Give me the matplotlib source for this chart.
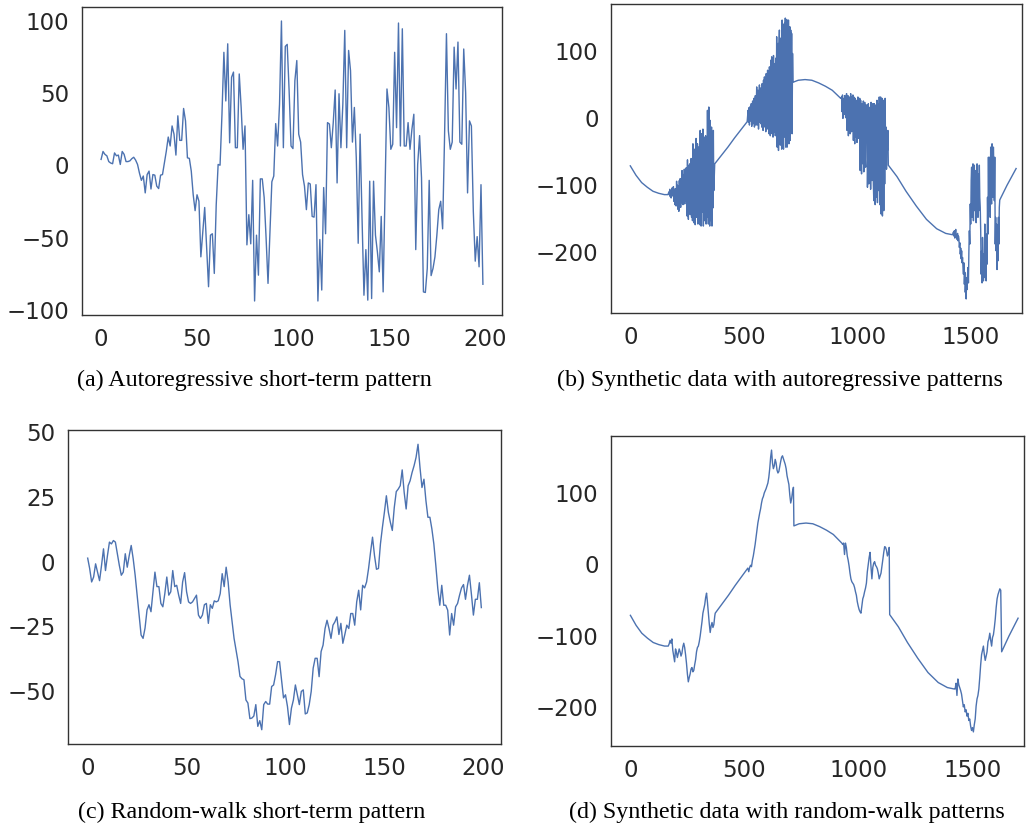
import numpy as np
import matplotlib
matplotlib.use('Agg')
import matplotlib.pyplot as plt

# (a) autoregressive short-term pattern, one value per step
ar_pattern = [
    3.5, 9, 7, 6, 2, 1, 0.5, 8, 6, 6.5,
    0, 9, 7, 2, 2, 2.5, 4, 5, 3, 0,
    -6, -11, -8, -19.7, -7, -4.6, -17, -7, -7.4, -15,
    -16.7, -7.4, -7, 1, 9.3, 19, 12.8, 26.7, 21, 6.5,
    33.7, 16.7, 16.7, 38.8, 30.2, 4.6, 4.2, -4.6, -20.9, -32,
    -21, -25.5, -64, -46.5, -29.8, -57, -84.7, -49, -48, -75.5,
    -28, 0, -0.5, 34.8, 77.7, 44, 83.6, 15, 60.4, 64,
    11.6, 11.6, 62.7, 39.5, 10.5, 26.7, -55.7, -34.8, -55, -11,
    -94.6, -49, -76.7, -10, -10, -23, -51, -82.4, -46.5, -12,
    -8, 28.3, 12.8, 41.8, 99.4, 11.6, 81.8, 83.2, 51, 12.8,
    11, 58, 72, 21, 15.5, -7, -15, -31.3, -12.8, -13.5,
    -36, -36.5, -14, -94.6, -52, -87, -16, -48, 29, 28,
    11.6, 29, 51.6, -12.8, 49, 11.6, 41.8, 92.9, 11.6, 79,
    65, 15.5, 39.5, 4.6, -54.6, 21, -37, -90.6, -59, -94,
    -11.6, -92.9, -11.6, -49, -60.5, -74.4, -36, -88.3, -16.3, 52.3,
    39.5, 10.5, 14, 77.7, 25.5, 98, 12.8, 94, 12.8, 12.8,
    29, 10.5, 24.4, 34.8, -59, 0, 20, -9.3, -88.3, -88.7,
    -72, -11, -77, -72, -64, -49, -31.3, -25.5, -44.6, 18.6,
    90.6, 23.3, 10.5, 15.5, 81.3, 52.3, 84.8, 15.5, 14, 80,
    49.8, -19.7, 30.2, 26.7, -32.5, -67, -50, -70.9, -14, -83,
]

# (c) random-walk short-term pattern
rw_pattern = [
    1, -3, -8.2, -6.3, -1.2, -4.4, -7.7, -1.8, 4.6, -3.8,
    2, 7.2, 6.5, 7.8, 7.2, 2.7, -1.8, -5.6, -4.4, 2.7,
    -2.5, 2, 5.9, 0.8, -5.6, -13.3, -21, -28.7, -30, -26,
    -19, -17, -19.7, -12, -4.4, -10, -10, -16.5, -17.8, -12.7,
    -6.3, -13.3, -12, -3.8, -10, -9.5, -13.3, -16.5, -8.2, -4.6,
    -12, -15.9, -16.5, -15.9, -14.6, -13.3, -21, -22.3, -21, -17,
    -16.5, -24.2, -17, -18.4, -15.5, -15.9, -15.5, -12.7, -5, -10,
    -2.5, -8.2, -17, -23.6, -30, -34.5, -39, -44.7, -45.6, -46,
    -53.8, -55, -61, -60.8, -60, -55.6, -64, -61.8, -65.3, -55.6,
    -54.4, -55.4, -55.4, -48.6, -48, -44, -39, -39, -46, -53,
    -51.8, -56.3, -63.3, -57, -53.8, -48, -51.8, -55.6, -50.5, -49.9,
    -59.2, -58.8, -55.6, -50.5, -41.5, -37.7, -37.7, -44.8, -35.1, -32.6,
    -26.2, -23, -26.2, -30, -24.9, -23.6, -21.7, -28.5, -24.2, -31.9,
    -28.5, -24.9, -26.2, -20.4, -20.4, -24.9, -15.9, -11.4, -19, -9.5,
    -10.5, -8.2, -3, 3.3, 9.1, 2, -3.3, -3, 6.5, 12.9,
    18.7, 25.1, 18.7, 14.9, 11.7, 20.6, 26.7, 27.7, 29, 35.1,
    26.4, 20, 29, 30.9, 34.1, 36.7, 39.9, 45, 36, 28.3,
    31.5, 23.2, 16.8, 16.8, 12.3, 6.5, -1.8, -10.8, -17.2, -9.5,
    -17.2, -17.2, -19.1, -28.7, -20.4, -24.9, -17.8, -16.5, -13.3, -10.5,
    -9.2, -14.9, -9.5, -5.6, -13, -21, -14.9, -14.9, -8.5, -18.1,
]

# smooth trend shared by (b) and (d), read where no pattern is inserted
trend_x = [0, 25, 50, 75, 100, 125, 150, 166,
           372, 400, 430, 460, 490, 515,
           717, 740, 770, 800, 830, 860, 890, 927,
           1137, 1175, 1215, 1260, 1305, 1350, 1390, 1420,
           1628, 1660, 1700]
trend_y = [-73, -87, -98, -105, -111, -114, -116, -116,
           -70, -58, -45, -31, -18, -7,
           52, 55, 56, 55, 51, 46, 40, 28,
           -72, -89, -111, -133, -153, -167, -174, -176,
           -124, -102, -77]

# inserted autoregressive stretches in (b), sampled every 2 time units
ar_step = 2
ar_starts = [170, 519, 931, 1424]
ar_seg1 = [-112, -116, -108, -119, -110, -121, -113, -106, -118, -111,
           -104, -126, -110, -131, -107, -122, -133,
           -96, -128, -102, -138, -110, -141, -95, -125, -92, -135, -104,
           -128, -80, -118, -131, -86, -124, -78, -130, -95, -126, -76,
           -120, -148, -64, -140, -153, -72, -130, -70, -146, -92, -62, -150, -110, -155,
           -40, -130, -158, -48, -120, -161, -58, -32, -150, -105, -40, -160, -75, -152, -44, -161,
           -20, -140, -163, -25, -100, -142, -18, -163, -60, -30, -155, -122, -28, -160, -48, -150,
           10, -120, -160, 15, -90, -163, -5, -140, -155, -15, -163, -60, -136, -20, -110]
ar_seg2 = [10, -8, 14, -12, 5, 16, -6, 20, -14, 8, 24, -10, 2, 28, -15, 12, 32, -12, 20,
           45, -12, 30, 40, -18, 15, 48, -8, 36, -10, 44, -15, 50, 38,
           -20, 55, -5, 60, -15, 45, -22, 65, 10, -18, 70, -12, 58, -25, 75, 40,
           -28, 85, -10, 90, -25, 60, -30, 92, 20, -22, 80, -28, 88, -15,
           120, -45, 70, 110, -50, 100, 130, -30, -42, 118, 60, -48,
           145, -20, 138, -48, 90, 140, -30, 148, -45, 120, 146,
           -45, 142, -10, 145, -40, 100, 135, -35, 130, -18, 125,
           -25, 95]
ar_seg3 = [30, 8, 33, -2, 20, 28, 4, 32, 10, -1, 28,
           35, -20, 12, 32, -28, 20, 30, -15, -25, 35, 8, -22, 30, -10, 33,
           -35, 30, -10, -40, 28, 5, -30, 25, -38, 10, 30, -32, 22, -20, 28,
           -80, 25, -40, -85, 20, -10, -70, 24, -82, 0, 22, -60, -75, 18, -30,
           18, -105, -40, 20, -100, 10, -60, 15, -108, 22, -20, -95, -70, 20, -100,
           -125, 20, -60, -131, 18, -20, -120, 25, -128, -50, 20, -110, 30, -131, 0,
           30, -145, -40, 28, -148, -10, 25, -140, 20, -100, 28,
           -60, -15, -78, -30, -50, -20]
ar_seg4 = [-172, -178, -170, -181, -175, -168, -180, -176, -183, -174, -185, -178,
           -182, -195, -188, -205, -196, -212, -200, -218, -210, -225,
           -235, -218, -250, -232, -262, -245, -272, -240, -258, -236,
           -225, -248, -200, -170, -190, -130, -160, -95,
           -75, -150, -110, -70, -155, -90, -72, -140, -120, -80,
           -158, -100, -70, -130, -150, -85, -140, -72, -120, -135,
           -170, -235, -200, -248, -180, -215, -245, -205, -240, -160, -230, -190, -245, -175,
           -220, -120, -175, -60, -140, -90, -60, -150, -45, -110,
           -130, -40, -100, -120, -45, -80, -125, -60, -190, -150,
           -200, -160, -228, -170, -215, -150, -190, -135]

# inserted random-walk stretches in (d), sampled every 4 time units
rw_step = 4
rw_starts = [170, 519, 931, 1424]
rw_seg1 = [-113, -108, -112, -106, -122, -130, -138, -120, -125, -132,
           -126, -120, -124, -130, -126, -117, -112, -118, -128, -140,
           -155, -166, -160, -155, -148, -146, -152, -150, -142, -135,
           -124, -118, -116, -110, -102, -92, -82, -70, -64, -58,
           -48, -42, -55, -70, -85, -97, -88, -83, -90, -86,
           -74]
rw_seg2 = [-12, -6, -3, -5, 4, 10, 18, 26, 36, 45,
           56, 63, 70, 76, 84, 90, 93, 98, 101, 104,
           108, 112, 120, 132, 148, 158, 140, 132, 136, 145,
           140, 130, 126, 128, 135, 142, 148, 150, 146, 142,
           138, 132, 122, 116, 110, 95, 84, 90, 100, 106]
rw_seg3 = [26, 28, 12, 28, 22, 10, 4, -4, -14, -22,
           -26, -28, -30, -34, -40, -45, -54, -60, -65, -68,
           -70, -60, -50, -46, -40, -35, -28, -12, -2, 8,
           15, -5, -22, -6, 0, 2, -3, -5, -8, -14,
           -22, -18, -14, -5, 5, 15, 23, 22, 18, 10,
           14, 22]
rw_seg4 = [-176, -168, -185, -162, -170, -174, -178, -183, -192, -201,
           -198, -208, -205, -214, -210, -220, -218, -228, -234, -230,
           -236, -226, -218, -200, -190, -185, -176, -160, -142, -128,
           -122, -116, -128, -136, -130, -124, -110, -106, -98, -108,
           -116, -104, -100, -90, -78, -62, -50, -44, -40, -36,
           -38]

captions = [
    '(a) Autoregressive short-term pattern',
    '(b) Synthetic data with autoregressive patterns',
    '(c) Random-walk short-term pattern',
    '(d) Synthetic data with random-walk patterns',
]

LINE = '#4C72B0'


def splice(starts, segs, step):
    # put the inserted stretches back onto the trend, in time order
    xs = [np.asarray(trend_x, float)]
    ys = [np.asarray(trend_y, float)]
    for s, seg in zip(starts, segs):
        xs.append(s + step * np.arange(len(seg)))
        ys.append(np.asarray(seg, float))
    x = np.concatenate(xs)
    y = np.concatenate(ys)
    order = np.argsort(x, kind='stable')
    return x[order], y[order]


def style(ax):
    for sp in ax.spines.values():
        sp.set_color('#333333')
        sp.set_linewidth(1.0)
    ax.tick_params(length=0, pad=9, labelsize=16.5, labelcolor='#262626')


fig = plt.figure(figsize=(10.28, 8.29), dpi=100)
W, H = 1028, 829


def add_axes(l, t, r, b):
    return fig.add_axes([l / W, 1 - b / H, (r - l) / W, (b - t) / H])


ax_a = add_axes(82, 8, 502, 316)
ax_b = add_axes(611, 5, 1022, 314)
ax_c = add_axes(68, 431, 501, 745)
ax_d = add_axes(611, 437, 1024, 747)

ax_a.plot(np.arange(len(ar_pattern)), ar_pattern, color=LINE, lw=1.0)
ax_c.plot(np.arange(len(rw_pattern)), rw_pattern, color=LINE, lw=1.0)

bx, by = splice(ar_starts, [ar_seg1, ar_seg2, ar_seg3, ar_seg4], ar_step)
ax_b.plot(bx, by, color=LINE, lw=1.0)
dx, dy = splice(rw_starts, [rw_seg1, rw_seg2, rw_seg3, rw_seg4], rw_step)
ax_d.plot(dx, dy, color=LINE, lw=1.0)

for ax in (ax_b, ax_d):
    ax.set_xlim(-85, 1726)
    ax.set_xticks([0, 500, 1000, 1500])
    ax.set_yticks([-200, -100, 0, 100])
ax_a.set_xticks([0, 50, 100, 150, 200])
ax_c.set_xticks([0, 50, 100, 150, 200])
ax_c.set_yticks([-50, -25, 0, 25, 50])

for ax in (ax_a, ax_b, ax_c, ax_d):
    style(ax)

cap_pos = [(254, 380), (780, 380), (252, 812), (787, 812)]
for (cx, cy), txt in zip(cap_pos, captions):
    fig.text(cx / W, 1 - cy / H, txt, ha='center', va='center',
             family='Liberation Serif', fontsize=17.3)

fig.savefig('out.png', dpi=100)
